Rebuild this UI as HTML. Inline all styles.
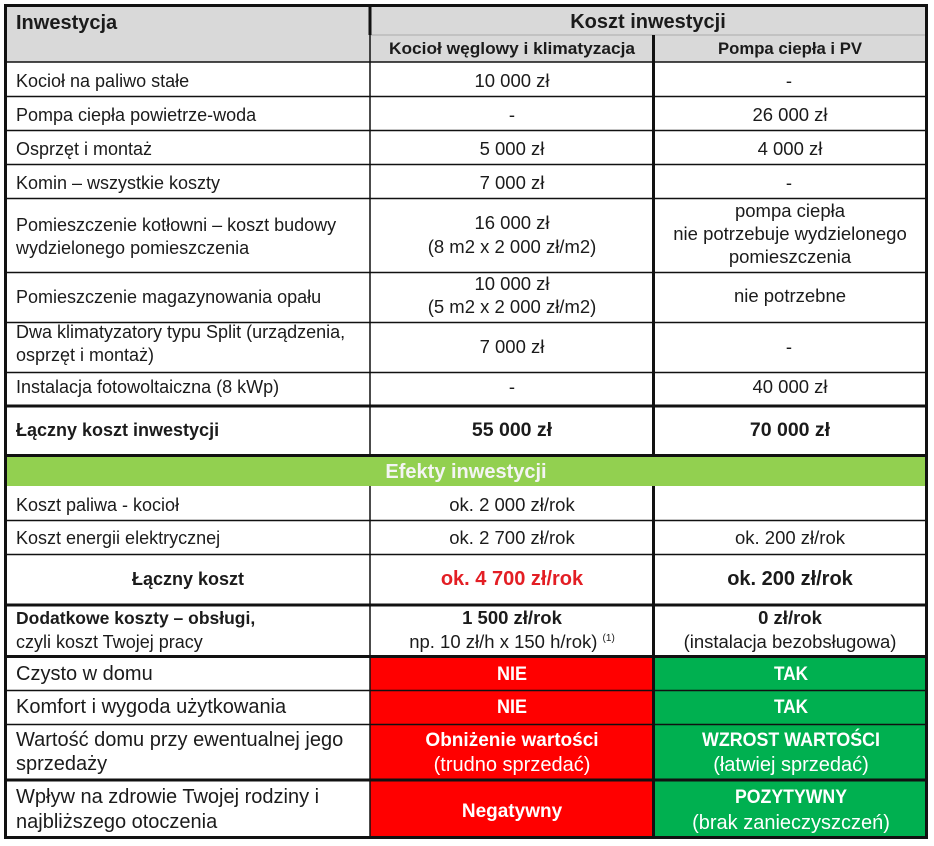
<!DOCTYPE html>
<html><head><meta charset="utf-8">
<style>
html,body{margin:0;padding:0;background:#fff;}
svg{display:block;}
text{font-family:"Liberation Sans",Arial,sans-serif;fill:#1b1b1b;}
.r{font-size:18px;}
.rm{font-size:18.5px;}
.rl{font-size:20px;}
.b{font-weight:bold;}
.c{text-anchor:middle;}
.w{fill:#fff;}
</style></head>
<body>
<svg width="934" height="846" viewBox="0 0 934 846" xmlns="http://www.w3.org/2000/svg">
<!-- backgrounds -->
<rect x="0" y="0" width="934" height="846" fill="#fff"/>
<rect x="7" y="7" width="918" height="55" fill="#d9d9d9"/>
<rect x="7" y="456" width="918" height="30" fill="#92d050"/>
<rect x="370" y="657" width="283" height="180" fill="#ff0000"/>
<rect x="653" y="657" width="273" height="180" fill="#00b050"/>

<!-- header sub line -->
<line x1="371" y1="35" x2="925" y2="35" stroke="#b5b5b5" stroke-width="1.2"/>

<!-- thin horizontal lines -->
<g stroke="#111" stroke-width="1.5">
<line x1="6" y1="62" x2="926" y2="62"/>
<line x1="6" y1="96.5" x2="926" y2="96.5"/>
<line x1="6" y1="130.5" x2="926" y2="130.5"/>
<line x1="6" y1="164.5" x2="926" y2="164.5"/>
<line x1="6" y1="198.5" x2="926" y2="198.5"/>
<line x1="6" y1="272.5" x2="926" y2="272.5"/>
<line x1="6" y1="322.5" x2="926" y2="322.5"/>
<line x1="6" y1="372.5" x2="926" y2="372.5"/>
<line x1="6" y1="520.5" x2="926" y2="520.5"/>
<line x1="6" y1="554.5" x2="926" y2="554.5"/>
<line x1="6" y1="690.5" x2="926" y2="690.5"/>
<line x1="6" y1="724.5" x2="926" y2="724.5"/>
<line x1="370" y1="35" x2="370" y2="456"/>
<line x1="370" y1="486" x2="370" y2="837"/>
</g>
<!-- thick lines -->
<g stroke="#111" stroke-width="3">
<line x1="6" y1="406" x2="926" y2="406"/>
<line x1="6" y1="455.5" x2="926" y2="455.5"/>
<line x1="6" y1="605" x2="926" y2="605"/>
<line x1="6" y1="656.5" x2="926" y2="656.5"/>
<line x1="6" y1="780" x2="926" y2="780"/>
<line x1="370" y1="6" x2="370" y2="35"/>
<line x1="653.5" y1="35" x2="653.5" y2="456"/>
<line x1="653.5" y1="486" x2="653.5" y2="837"/>
<rect x="5.5" y="5.5" width="921" height="832" fill="none"/>
</g>

<!-- header -->
<text class="b" x="16" y="29" font-size="20">Inwestycja</text>
<text class="b c" x="648" y="28" font-size="20">Koszt inwestycji</text>
<text class="b c" x="512" y="54" font-size="17" textLength="246" lengthAdjust="spacingAndGlyphs">Kocioł węglowy i klimatyzacja</text>
<text class="b c" x="790" y="54" font-size="17" textLength="144" lengthAdjust="spacingAndGlyphs">Pompa ciepła i PV</text>

<!-- rows -->
<text class="r" x="16" y="87">Kocioł na paliwo stałe</text>
<text class="rm c" x="512" y="87">10 000 zł</text>
<text class="rm c" x="789" y="87">-</text>

<text class="r" x="16" y="121">Pompa ciepła powietrze-woda</text>
<text class="rm c" x="512" y="121">-</text>
<text class="rm c" x="790" y="121">26 000 zł</text>

<text class="r" x="16" y="155">Osprzęt i montaż</text>
<text class="rm c" x="512" y="155">5 000 zł</text>
<text class="rm c" x="790" y="155">4 000 zł</text>

<text class="r" x="16" y="189">Komin – wszystkie koszty</text>
<text class="rm c" x="512" y="189">7 000 zł</text>
<text class="rm c" x="789" y="189">-</text>

<text class="r" x="16" y="231">Pomieszczenie kotłowni – koszt budowy</text>
<text class="r" x="16" y="254">wydzielonego pomieszczenia</text>
<text class="rm c" x="512" y="229">16 000 zł</text>
<text class="rm c" x="512" y="253">(8 m2 x 2 000 zł/m2)</text>
<text class="rm c" x="790" y="217">pompa ciepła</text>
<text class="rm c" x="790" y="240">nie potrzebuje wydzielonego</text>
<text class="rm c" x="790" y="263">pomieszczenia</text>

<text class="r" x="16" y="303">Pomieszczenie magazynowania opału</text>
<text class="rm c" x="512" y="290">10 000 zł</text>
<text class="rm c" x="512" y="313">(5 m2 x 2 000 zł/m2)</text>
<text class="rm c" x="790" y="302">nie potrzebne</text>

<text class="r" x="16" y="338">Dwa klimatyzatory typu Split (urządzenia,</text>
<text class="r" x="16" y="361">osprzęt i montaż)</text>
<text class="rm c" x="512" y="353">7 000 zł</text>
<text class="rm c" x="789" y="353">-</text>

<text class="r" x="16" y="393">Instalacja fotowoltaiczna (8 kWp)</text>
<text class="rm c" x="512" y="393">-</text>
<text class="rm c" x="790" y="393">40 000 zł</text>

<text class="b" x="16" y="436" font-size="18">Łączny koszt inwestycji</text>
<text class="b c" x="512" y="436" font-size="19.5">55 000 zł</text>
<text class="b c" x="790" y="436" font-size="19.5">70 000 zł</text>

<text class="b c" x="466" y="478" font-size="20" style="fill:#f4f4f4">Efekty inwestycji</text>

<text class="r" x="16" y="511">Koszt paliwa - kocioł</text>
<text class="rm c" x="512" y="511">ok. 2 000 zł/rok</text>

<text class="r" x="16" y="544">Koszt energii elektrycznej</text>
<text class="rm c" x="512" y="544">ok. 2 700 zł/rok</text>
<text class="rm c" x="790" y="544">ok. 200 zł/rok</text>

<text class="b c" x="188" y="585" font-size="18">Łączny koszt</text>
<text class="b c" x="512" y="585" font-size="20" style="fill:#e31e24">ok. 4 700 zł/rok</text>
<text class="b c" x="790" y="585" font-size="20">ok. 200 zł/rok</text>

<text class="b" x="16" y="624" font-size="17.5">Dodatkowe koszty – obsługi,</text>
<text class="r" x="16" y="648">czyli koszt Twojej pracy</text>
<text class="b c" x="512" y="624" font-size="18.5">1 500 zł/rok</text>
<text class="rm c" x="512" y="648">np. 10 zł/h x 150 h/rok) <tspan font-size="10" dy="-7">(1)</tspan></text>
<text class="b c" x="790" y="624" font-size="18.5">0 zł/rok</text>
<text class="rm c" x="790" y="648">(instalacja bezobsługowa)</text>

<text class="rl" x="16" y="680">Czysto w domu</text>
<text class="b c w" x="512" y="680" font-size="19" textLength="30" lengthAdjust="spacingAndGlyphs">NIE</text>
<text class="b c w" x="791" y="680" font-size="19" textLength="34" lengthAdjust="spacingAndGlyphs">TAK</text>

<text class="rl" x="16" y="713">Komfort i wygoda użytkowania</text>
<text class="b c w" x="512" y="713" font-size="19" textLength="30" lengthAdjust="spacingAndGlyphs">NIE</text>
<text class="b c w" x="791" y="713" font-size="19" textLength="34" lengthAdjust="spacingAndGlyphs">TAK</text>

<text class="rl" x="16" y="746">Wartość domu przy ewentualnej jego</text>
<text class="rl" x="16" y="770">sprzedaży</text>
<text class="b c w" x="512" y="746" font-size="19">Obniżenie wartości</text>
<text class="rl c w" x="512" y="771">(trudno sprzedać)</text>
<text class="b c w" x="791" y="746" font-size="19" textLength="178" lengthAdjust="spacingAndGlyphs">WZROST WARTOŚCI</text>
<text class="rl c w" x="791" y="771">(łatwiej sprzedać)</text>

<text class="rl" x="16" y="803">Wpływ na zdrowie Twojej rodziny i</text>
<text class="rl" x="16" y="828">najbliższego otoczenia</text>
<text class="b c w" x="512" y="817" font-size="19">Negatywny</text>
<text class="b c w" x="791" y="803" font-size="19" textLength="112" lengthAdjust="spacingAndGlyphs">POZYTYWNY</text>
<text class="rl c w" x="791" y="829">(brak zanieczyszczeń)</text>
</svg>
</body></html>
